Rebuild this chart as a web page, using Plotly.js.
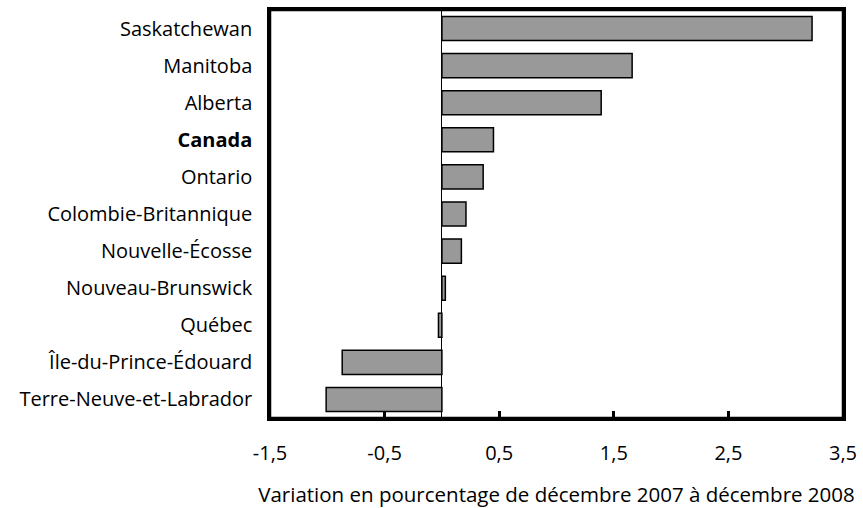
<!DOCTYPE html>
<html><head><meta charset="utf-8">
<script src="https://cdn.plot.ly/plotly-3.0.1.min.js"></script>
<style>html,body{margin:0;padding:0;background:#fff}#c{width:863px;height:508px}</style>
</head><body><div id="c"></div>
<script>
const categories = ["Saskatchewan","Manitoba","Alberta","Canada","Ontario","Colombie-Britannique","Nouvelle-Écosse","Nouveau-Brunswick","Québec","Île-du-Prince-Édouard","Terre-Neuve-et-Labrador"];
const values = [3.23, 1.66, 1.39, 0.45, 0.36, 0.21, 0.17, 0.03, -0.03, -0.87, -1.01];
const xTickVals = [-1.5, -0.5, 0.5, 1.5, 2.5, 3.5];
const xTickText = ["-1,5", "-0,5", "0,5", "1,5", "2,5", "3,5"];
const xTitle = "Variation en pourcentage de décembre 2007 à décembre 2008";
const yTickText = categories.map(c => c === "Canada" ? "<b>Canada</b>" : c);

const fontFam = "'Open Sans', sans-serif";
Plotly.newPlot("c", [{
  type: "bar", orientation: "h",
  x: values, y: categories,
  marker: {color: "#999999", line: {color: "#000", width: 1.5}},
  hoverinfo: "none"
}], {
  width: 863, height: 508,
  margin: {l: 270, r: 20, t: 10, b: 90, pad: 0},
  paper_bgcolor: "#fff", plot_bgcolor: "#fff",
  bargap: 0.35,
  showlegend: false,
  font: {family: fontFam, size: 20, color: "#000"},
  shapes: [{type: "rect", xref: "paper", yref: "paper", x0: 0, x1: 1, y0: 0, y1: 1,
            line: {color: "#000", width: 2.5}, layer: "below"}],
  xaxis: {
    range: [-1.5, 3.5], tickvals: xTickVals, ticktext: xTickText,
    ticks: "inside", ticklen: 7, tickcolor: "#000", tickwidth: 2.5,
    showline: true, linecolor: "#000", linewidth: 2.5, mirror: true,
    showgrid: false, zeroline: true, zerolinecolor: "#000", zerolinewidth: 1,
    layer: "below traces",
    ticklabelstandoff: 15,
    title: {text: xTitle, font: {size: 20.5}, standoff: 26}
  },
  yaxis: {
    autorange: "reversed", tickvals: categories, ticktext: yTickText,
    showline: true, linecolor: "#000", linewidth: 2.5, mirror: true,
    showgrid: false, ticks: "", ticklabelstandoff: 11,
    layer: "below traces"
  }
}, {displayModeBar: false});
</script></body></html>
